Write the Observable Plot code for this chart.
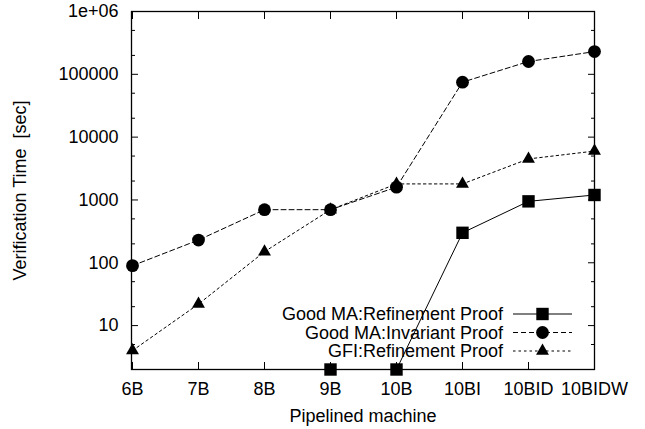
<!DOCTYPE html>
<html><head><meta charset="utf-8">
<script src="https://cdn.jsdelivr.net/npm/d3@7"></script>
<script src="https://cdn.jsdelivr.net/npm/@observablehq/plot@0.6"></script>
<style>
html,body{margin:0;padding:0;background:#fff;}
svg{display:block;}
</style></head><body><div id="chart"></div>
<script>
const machines = ["6B","7B","8B","9B","10B","10BI","10BID","10BIDW"];
const refinementMachines = ["9B","10B","10BI","10BID","10BIDW"];
const refinementTimes = [2, 2, 300, 950, 1200];
const invariantTimes = [90, 230, 700, 700, 1600, 75000, 160000, 230000];
const gfiTimes = [4, 22, 150, 700, 1800, 1800, 4500, 6000];
const yMajorTicks = [10, 100, 1000, 10000, 100000, 1000000];
const yMajorLabels = ["10", "100", "1000", "10000", "100000", "1e+06"];
const yMinorTicks = [5, 20, 50, 200, 500, 2000, 5000, 20000, 50000, 200000, 500000];
const seriesNames = ["Good MA:Refinement Proof", "Good MA:Invariant Proof", "GFI:Refinement Proof"];
const xTitle = "Pipelined machine";
const yTitle = "Verification Time\u00a0 [sec]";

const refData = refinementMachines.map((m, i) => ({machine: m, time: refinementTimes[i]}));
const invData = machines.map((m, i) => ({machine: m, time: invariantTimes[i]}));
const gfiData = machines.map((m, i) => ({machine: m, time: gfiTimes[i]}));

const styles = [
  {dash: null, symbol: "square", r: 7},
  {dash: "5,3", symbol: "circle", r: 6.4},
  {dash: "2.5,3", symbol: "triangle", r: 4.8}
];
const W = 645, H = 429, mL = 131, mR = 51, mT = 11, mB = 60;
const fmtMajor = d => yMajorLabels[yMajorTicks.indexOf(d)];
const blank = () => "";

const plot = Plot.plot({
  width: W, height: H,
  marginLeft: mL, marginRight: mR, marginTop: mT, marginBottom: mB,
  style: {fontFamily: "'Liberation Sans', Arial, Helvetica, sans-serif", fontSize: "18px", color: "black", background: "white"},
  x: {type: "point", domain: machines, padding: 0, axis: null},
  y: {type: "log", domain: [2, 1e6], axis: null},
  marks: [
    Plot.axisY({anchor: "left", ticks: yMajorTicks, tickSize: 0, tickPadding: 13, tickFormat: fmtMajor, fill: "black", label: null}),
    Plot.axisY({anchor: "left", ticks: yMajorTicks, tickSize: -7, tickFormat: blank, label: null}),
    Plot.axisY({anchor: "left", ticks: yMinorTicks, tickSize: -4, tickFormat: blank, label: null}),
    Plot.axisY({anchor: "right", ticks: yMajorTicks, tickSize: -7, tickFormat: blank, label: null}),
    Plot.axisY({anchor: "right", ticks: yMinorTicks, tickSize: -4, tickFormat: blank, label: null}),
    Plot.axisX({anchor: "bottom", tickSize: 0, tickPadding: 12.6, fill: "black", label: null}),
    Plot.axisX({anchor: "bottom", tickSize: -7, tickFormat: blank, label: null}),
    Plot.axisX({anchor: "top", tickSize: -7, tickFormat: blank, label: null}),
    Plot.line(refData, {x: "machine", y: "time", stroke: "black", strokeWidth: 1}),
    Plot.line(invData, {x: "machine", y: "time", stroke: "black", strokeWidth: 1, strokeDasharray: styles[1].dash}),
    Plot.line(gfiData, {x: "machine", y: "time", stroke: "black", strokeWidth: 1, strokeDasharray: styles[2].dash}),
    Plot.dot(refData, {x: "machine", y: "time", symbol: "square", r: styles[0].r, fill: "black", stroke: "none"}),
    Plot.dot(invData, {x: "machine", y: "time", symbol: "circle", r: styles[1].r, fill: "black", stroke: "none"}),
    Plot.dot(gfiData, {x: "machine", y: "time", symbol: "triangle", r: styles[2].r, fill: "black", stroke: "none"}),
    Plot.frame({stroke: "black", strokeWidth: 1.3}),
    Plot.text([xTitle], {frameAnchor: "bottom", dy: 46.5, text: d => d, textAnchor: "middle", lineAnchor: "middle", fill: "black"}),
    Plot.text([yTitle], {frameAnchor: "left", dx: -111, rotate: -90, text: d => d, textAnchor: "middle", lineAnchor: "middle", fill: "black"})
  ]
});
document.getElementById("chart").appendChild(plot);

// legend inside the frame, bottom-right
const svg = d3.select(plot);
const right = W - mR, bottom = H - mB;
const leg = svg.append("g").attr("font-family", "'Liberation Sans', Arial, Helvetica, sans-serif").attr("font-size", 18);
const rowOffsets = [55, 36.5, 18];
const symbolMap = {square: d3.symbolSquare, circle: d3.symbolCircle, triangle: d3.symbolTriangle};
seriesNames.forEach((name, i) => {
  const cy = bottom - rowOffsets[i];
  leg.append("text").attr("x", right - 91).attr("y", cy).attr("dy", "0.35em")
    .attr("text-anchor", "end").attr("fill", "black").text(name);
  const ln = leg.append("line").attr("x1", right - 81).attr("x2", right - 22)
    .attr("y1", cy).attr("y2", cy).attr("stroke", "black").attr("stroke-width", 1);
  if (styles[i].dash) ln.attr("stroke-dasharray", styles[i].dash);
  leg.append("path").attr("transform", `translate(${right - 51.5},${cy})`)
    .attr("d", d3.symbol(symbolMap[styles[i].symbol], Math.PI * styles[i].r * styles[i].r)())
    .attr("fill", "black");
});
</script></body></html>
